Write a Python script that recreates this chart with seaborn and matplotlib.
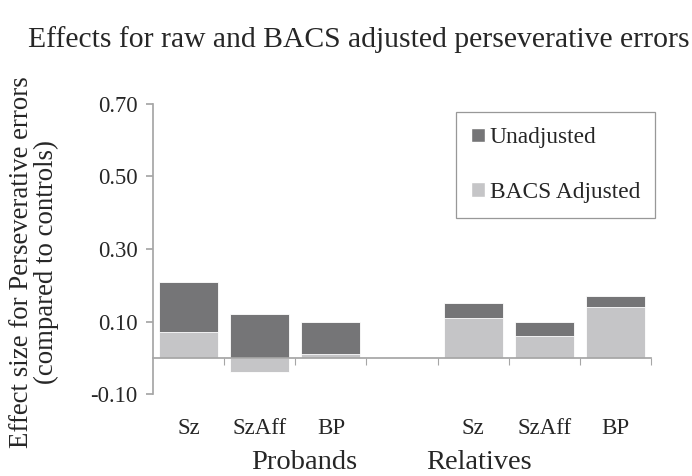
import matplotlib
matplotlib.use("Agg")
import matplotlib.pyplot as plt
import numpy as np
import pandas as pd
import seaborn as sns

# ── data ──
slots = ["P_Sz", "P_SzAff", "P_BP", "gap", "R_Sz", "R_SzAff", "R_BP"]
slot_labels = ["Sz", "SzAff", "BP", "", "Sz", "SzAff", "BP"]
unadjusted = [0.21, 0.12, 0.10, np.nan, 0.15, 0.10, 0.17]
bacs_adjusted = [0.07, -0.04, 0.01, np.nan, 0.11, 0.06, 0.14]
group_names = ["Probands", "Relatives"]
yticks = [-0.10, 0.10, 0.30, 0.50, 0.70]

DARK = "#757577"
LIGHT = "#c5c5c7"
AXIS = "#a6a6a6"

sns.set_theme(style="white")
plt.rcParams["font.family"] = ["Liberation Serif", "DejaVu Serif"]

df = pd.DataFrame({"slot": slots, "unadj": unadjusted, "adj": bacs_adjusted})

fig = plt.figure(figsize=(6.92, 4.76), dpi=100)
ax = fig.add_axes([0.221, 0.172, 0.72, 0.61])

sns.barplot(data=df, x="slot", y="unadj", order=slots, color=DARK, saturation=1,
            width=0.83, errorbar=None, ax=ax, edgecolor="white", linewidth=0.6)
sns.barplot(data=df, x="slot", y="adj", order=slots, color=LIGHT, saturation=1,
            width=0.83, errorbar=None, ax=ax, edgecolor="white", linewidth=0.6)

ax.set_xlim(-0.5, len(slots) - 0.5)
ax.set_ylim(-0.10, 0.70)
ax.set_yticks(yticks)
ax.set_yticklabels([f"{v:.2f}" for v in yticks], fontsize=16.3)
ax.set_xlabel("")
ax.set_ylabel("")

for s in ["top", "right"]:
    ax.spines[s].set_visible(False)
ax.spines["left"].set_color(AXIS)
ax.spines["bottom"].set_color(AXIS)
ax.spines["bottom"].set_position(("data", 0))
ax.tick_params(axis="y", which="major", direction="out", length=5, color=AXIS,
               left=True, pad=6)

ax.set_xticks(range(len(slots)))
ax.set_xticklabels(slot_labels, fontsize=16.5)
ax.set_xticks(np.arange(0.5, len(slots), 1.0), minor=True)
ax.tick_params(axis="x", which="major", length=0, pad=43)
ax.tick_params(axis="x", which="minor", direction="out", length=5, color=AXIS,
               bottom=True, width=0.8)

# group labels
for name, xpos in zip(group_names, [1.63, 4.08]):
    ax.text(xpos, -0.288, name, ha="center", va="center", fontsize=20.5,
            transform=ax.transData, clip_on=False)

legend_handles = [plt.Rectangle((0, 0), 1, 1, fc=DARK), plt.Rectangle((0, 0), 1, 1, fc=LIGHT)]
leg = ax.legend(legend_handles, ["Unadjusted", "BACS Adjusted"], loc="upper left",
                bbox_to_anchor=(456 / 692, 1 - 112 / 476), bbox_transform=fig.transFigure,
                fontsize=16.8, frameon=True, fancybox=False, labelspacing=1.45,
                handlelength=0.6, handleheight=0.6, handletextpad=0.2,
                borderpad=0.65, borderaxespad=0)
leg.get_frame().set_edgecolor("#7f7f7f")
leg.get_frame().set_linewidth(0.9)

fig.text(359 / 692, 1 - 40 / 476, "Effects for raw and BACS adjusted perseverative errors",
         ha="center", va="center", fontsize=21.3)
fig.text(34 / 692, 1 - 262 / 476, "Effect size for Perseverative errors\n(compared to controls)",
         ha="center", va="center", rotation=90, fontsize=19.3, multialignment="center",
         linespacing=1.0)

fig.savefig("out.png", dpi=100)
